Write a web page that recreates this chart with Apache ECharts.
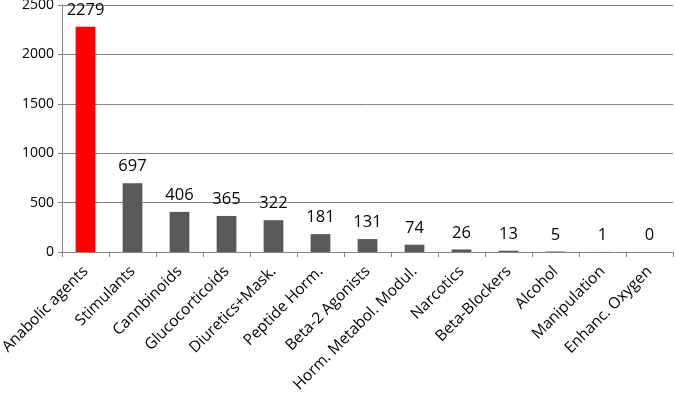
<!DOCTYPE html>
<html>
<head>
<meta charset="utf-8">
<script src="https://cdn.jsdelivr.net/npm/echarts@6/dist/echarts.min.js"></script>
<style>
  html, body { margin: 0; padding: 0; background: #fff; }
  #grafico { width: 675px; height: 403px; }
</style>
</head>
<body>
<div id="grafico"></div>
<script>
const categorias = ['Anabolic agents', 'Stimulants', 'Cannbinoids', 'Glucocorticoids',
  'Diuretics+Mask.', 'Peptide Horm.', 'Beta-2 Agonists', 'Horm. Metabol. Modul.',
  'Narcotics', 'Beta-Blockers', 'Alcohol', 'Manipulation', 'Enhanc. Oxygen']
const valores = [2279, 697, 406, 365, 322, 181, 131, 74, 26, 13, 5, 1, 0]
const ticksY = [0, 500, 1000, 1500, 2000, 2500]

const fuente = 'Open Sans'

let myChart = echarts.init(document.getElementById('grafico'))

let option = {
  animation: false,
  grid: {
    left: 62,
    right: 2,
    top: 5,
    bottom: 151,
    outerBoundsMode: 'none'
  },
  xAxis: {
    type: 'category',
    data: categorias,
    axisLine: { lineStyle: { color: '#868686', width: 1 } },
    axisTick: { show: true, alignWithLabel: false, length: 5, lineStyle: { color: '#868686' } },
    axisLabel: {
      rotate: 45,
      interval: 0,
      margin: 17,
      color: '#000',
      fontFamily: fuente,
      fontSize: 15.5
    }
  },
  yAxis: {
    type: 'value',
    min: ticksY[0],
    max: ticksY[ticksY.length - 1],
    interval: 500,
    axisLine: { show: true, lineStyle: { color: '#868686' } },
    axisTick: { show: true, length: 4, lineStyle: { color: '#868686' } },
    axisLabel: {
      color: '#000',
      fontFamily: fuente,
      fontSize: 14,
      margin: 8,
      formatter: v => String(v)
    },
    splitLine: { lineStyle: { color: '#868686', width: 1 } }
  },
  series: [
    {
      type: 'bar',
      data: valores.map((v, i) => ({
        value: v,
        itemStyle: { color: i === 0 ? '#ff0000' : '#595959' }
      })),
      barWidth: '42%',
      label: {
        show: true,
        position: 'top',
        distance: 8,
        color: '#000',
        fontFamily: fuente,
        fontSize: 16.5
      }
    }
  ]
}

myChart.setOption(option)
</script>
</body>
</html>
